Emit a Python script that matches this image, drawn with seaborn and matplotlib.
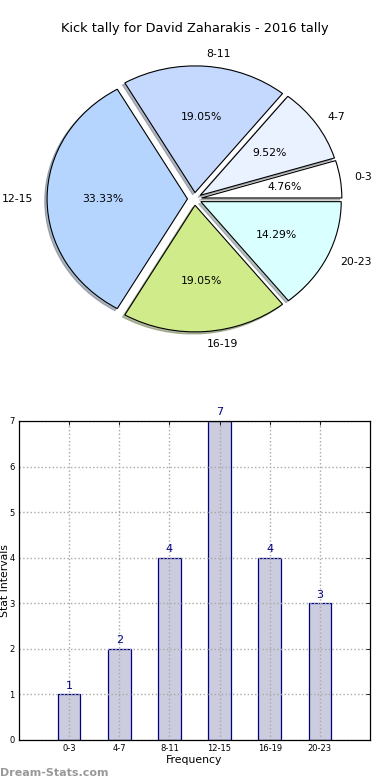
import matplotlib
matplotlib.use('Agg')
import matplotlib.pyplot as plt
import seaborn as sns
import pandas as pd

sns.set_theme(style='white')
plt.rcParams['font.family'] = ['DejaVu Sans']
plt.rcParams.update({'text.color': 'black', 'axes.labelcolor': 'black',
                     'xtick.color': 'black', 'ytick.color': 'black'})

# Data
intervals = ['0-3', '4-7', '8-11', '12-15', '16-19', '20-23']
kicks = [1, 2, 4, 7, 4, 3]
pie_colors = ['#ffffff', '#eaf1ff', '#c5d9ff', '#b5d5ff', '#d0eb8a', '#d9ffff']

fig = plt.figure(figsize=(3.9, 7.8), dpi=100)

# 1) Pie
ax1 = fig.add_axes([0.0487, 0.542, 0.9, 0.406])
wedges, texts, autotexts = ax1.pie(
    kicks, labels=intervals, colors=pie_colors, autopct='%1.2f%%',
    startangle=0, explode=[0.05] * len(kicks),
    shadow=dict(ox=-0.012, oy=-0.012, shade=0.5),
    wedgeprops=dict(edgecolor='black', linewidth=0.8),
    textprops=dict(fontsize=7.8, color='black'))
ax1.set_aspect('auto')
ax1.set_xlim(-1.25, 1.25)
ax1.set_ylim(-1.25, 1.25)
ax1.set_title('Kick tally for David Zaharakis - 2016 tally', fontsize=9.3, pad=6, color='black')

# 2) Bars
ax2 = fig.add_axes([0.0487, 0.0513, 0.9, 0.409])
df = pd.DataFrame({'interval': intervals, 'kicks': kicks})
sns.barplot(data=df, x='interval', y='kicks', order=intervals, width=0.45,
            color='#ccccdf', saturation=1, edgecolor='#000080', linewidth=0.9,
            ax=ax2, zorder=2)
ax2.set_xlim(-1, 6)
ax2.set_ylim(0, 7)
ax2.set_yticks(range(8))
ax2.grid(True, linestyle=':', color='#a8a8a8', linewidth=1.0, zorder=3)
ax2.set_axisbelow(False)
for s in ax2.spines.values():
    s.set_color('black')
    s.set_linewidth(0.9)
    s.set_zorder(4)
ax2.tick_params(direction='in', top=True, right=True, length=3, width=0.6,
                labelsize=6, pad=3, color='black', labelcolor='black')
ax2.set_xlabel('Frequency', fontsize=7.8, labelpad=1)
ax2.set_ylabel('Stat Intervals', fontsize=7.8)
ax2.yaxis.set_label_coords(-0.026, 0.5)
for i, v in enumerate(kicks):
    ax2.text(i, v + 0.08, str(v), ha='center', va='bottom', fontsize=8, color='#000080')

fig.text(0.0, 0.005, 'Dream-Stats.com', fontsize=8, color='#999999', fontweight='bold')

plt.savefig('out.png', dpi=100)
plt.close()
